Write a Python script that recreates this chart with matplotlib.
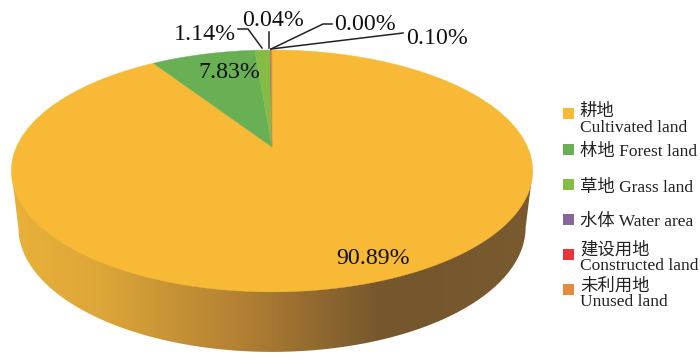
# -*- coding: utf-8 -*-
import numpy as np
import matplotlib
matplotlib.use("Agg")
import matplotlib.pyplot as plt
from matplotlib.colors import LinearSegmentedColormap
from matplotlib.patches import Polygon, Rectangle

# ── Data ──────────────────────────────────────────────────────────
names = ["耕地\nCultivated land", "林地 Forest land", "草地 Grass land",
         "水体 Water area", "建设用地\nConstructed land", "未利用地\nUnused land"]
shares = [90.89, 7.83, 1.14, 0.04, 0.00, 0.10]
colors = ["#F8BA36", "#69B055", "#85BC45", "#86669C", "#E8343A", "#E58B3C"]
# ─────────────────────────────────────────────────────────────────

SERIF = ["Liberation Serif", "Noto Sans CJK SC"]
APEX = (272.0, 147.0)


def project(theta):
    # disc angle (clockwise from top) to picture pixels, with the tilt of the 3D pie
    u, v = np.sin(theta), np.cos(theta)
    w = 1 + 0.198 * v
    x = APEX[0] + 255.5 * u / w
    y = APEX[1] - 116.2 * v / w
    return x, y


fig = plt.figure(figsize=(7, 3.62), dpi=100)
ax = fig.add_axes([0, 0, 1, 1])

# side wall
t = np.linspace(0, 2 * np.pi, 721)
tx, ty = project(t)
bx = 272 + (tx - 272) * 0.973
by = ty + 60 + (ty - 292) * 0.03
i0, i1 = np.argmin(bx), np.argmax(bx)
j0, j1 = np.argmin(tx), np.argmax(tx)
low = np.arange(i1, i0 + 1)
wall = np.vstack([np.column_stack([bx[low], by[low]]),
                  [[tx[j0], ty[j0]]], [[tx[j1], ty[j1]]]])
wall_cmap = LinearSegmentedColormap.from_list(
    "wall", [(0, "#E9B13A"), (0.17, "#DDA638"), (0.45, "#B07F33"),
             (0.71, "#75562D"), (1, "#7A5A2F")])
img = ax.imshow(np.linspace(0, 1, 256)[None, :], cmap=wall_cmap, aspect="auto",
                extent=(12, 534, 362, 0), zorder=1)
poly = Polygon(wall, closed=True, transform=ax.transData, fc="none", ec="none")
ax.add_patch(poly)
img.set_clip_path(poly)
ax.set_xlim(0, 700)
ax.set_ylim(362, 0)
ax.axis("off")

# top face
edges = np.cumsum([0] + shares) / 100 * 2 * np.pi
for a, b, c in zip(edges[:-1], edges[1:], colors):
    if b <= a:
        continue
    n = max(2, int((b - a) / 0.005))
    x, y = project(np.linspace(a, b, n))
    pts = np.vstack([[APEX], np.column_stack([x, y])])
    ax.add_patch(Polygon(pts, closed=True, fc=c, ec=c, lw=0.3, zorder=2))

# percentage labels
label_kw = dict(family=SERIF, fontsize=17.2, color="#111111", ha="center",
                va="center", zorder=4)
ax.text(373, 259, "90.89%", **label_kw)
ax.text(229, 73, "7.83%", **label_kw)
ax.text(205, 34, "1.14%", **label_kw)
ax.text(273, 20, "0.04%", **label_kw)
ax.text(365, 25, "0.00%", **label_kw)
ax.text(437, 39, "0.10%", **label_kw)

# leader lines
for xs, ys in [([262, 248, 238], [48, 29, 29]),
               ([269, 269], [48, 32]),
               ([271, 323, 332], [49, 24, 24]),
               ([271, 403], [49, 33])]:
    ax.plot(xs, ys, color="#222222", lw=1.1, zorder=3)

# legend
rows = [(113, 120), (149, 152), (184, 188), (219, 222), (254, 258), (289, 294)]
for name, c, (sy, ty_) in zip(names, colors, rows):
    ax.add_patch(Rectangle((562.5, sy - 5.5), 11, 11, fc=c, ec="none", zorder=3))
    ax.text(580, ty_, name, family=SERIF, fontsize=12.5, color="#222222",
            ha="left", va="center", linespacing=0.97, zorder=4)

fig.savefig("out.png", dpi=100)
